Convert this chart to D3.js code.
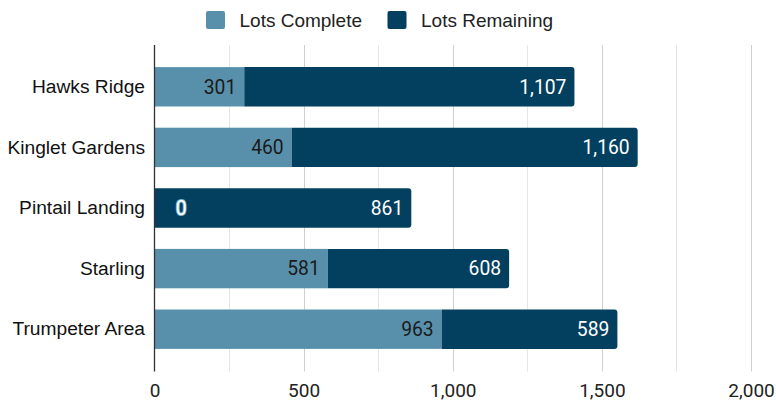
<!DOCTYPE html>
<html>
<head>
<meta charset="utf-8">
<script src="https://cdn.jsdelivr.net/npm/d3@7"></script>
<style>
  html, body { margin: 0; padding: 0; background: #fff; }
  svg { display: block; }
</style>
</head>
<body>
<svg id="chart" width="776" height="401"></svg>
<script>
const categories = ["Hawks Ridge", "Kinglet Gardens", "Pintail Landing", "Starling", "Trumpeter Area"];
const lotsComplete = [301, 460, 0, 581, 963];
const lotsRemaining = [1107, 1160, 861, 608, 589];
const seriesNames = ["Lots Complete", "Lots Remaining"];
const tickValues = [0, 500, 1000, 1500, 2000];
const gridValues = [0, 250, 500, 750, 1000, 1250, 1500, 1750, 2000];

const colors = ["#5890ab", "#03405f"];
const svg = d3.select("#chart");

const x = d3.scaleLinear().domain([0, 2000]).range([154.5, 751]);
const y = d3.scaleBand().domain(categories).range([56.5, 359.5]).paddingInner(0.35).paddingOuter(0.175);
const plotTop = 45, plotBottom = 371.5;

// gridlines
svg.append("g").selectAll("line").data(gridValues.slice(1)).join("line")
  .attr("x1", d => Math.round(x(d)) + 0.5).attr("x2", d => Math.round(x(d)) + 0.5)
  .attr("y1", plotTop).attr("y2", plotBottom)
  .attr("stroke", d => d % 500 === 0 ? "#cfcfcf" : "#e6e6e6")
  .attr("stroke-width", 1);

// x axis tick labels
const xAxis = d3.axisBottom(x).tickValues(tickValues).tickSize(0).tickPadding(0)
  .tickFormat(d3.format(","));
const ax = svg.append("g").attr("transform", `translate(0,${plotBottom})`).call(xAxis);
ax.select(".domain").remove();
ax.selectAll("text")
  .attr("y", 25).attr("dy", null)
  .attr("font-family", "Roboto, sans-serif").attr("font-size", 19).attr("fill", "#222");

// bars
const data = categories.map((c, i) => ({ c, a: lotsComplete[i], b: lotsRemaining[i] }));
const g = svg.append("g");
const r = 3;
function rightRounded(x0, x1, y0, h) {
  const rr = Math.min(r, (x1 - x0) / 2);
  return `M${x0},${y0}H${x1 - rr}Q${x1},${y0} ${x1},${y0 + rr}V${y0 + h - rr}Q${x1},${y0 + h} ${x1 - rr},${y0 + h}H${x0}Z`;
}
data.forEach(d => {
  const y0 = y(d.c), h = y.bandwidth();
  if (d.a > 0) {
    g.append("rect").attr("x", x(0)).attr("y", y0)
      .attr("width", x(d.a) - x(0)).attr("height", h).attr("fill", colors[0]);
  }
  g.append("path").attr("d", rightRounded(x(d.a), x(d.a + d.b), y0, h)).attr("fill", colors[1]);
  // labels
  const cy = y0 + h / 2;
  if (d.a > 0) {
    g.append("text").attr("x", x(d.a) - 8).attr("y", cy).attr("dy", "0.35em")
      .attr("text-anchor", "end").attr("font-family", "Roboto, sans-serif").attr("font-size", 19.3)
      .attr("fill", "#1a1a1a").text(d3.format(",")(d.a));
  } else {
    g.append("text").attr("x", x(d.a) + 32).attr("y", cy).attr("dy", "0.35em")
      .attr("text-anchor", "end").attr("font-family", "Roboto, sans-serif").attr("font-size", 19.3)
      .attr("fill", "#ffffff").attr("stroke", "#7fb0c8").attr("stroke-width", 2)
      .attr("paint-order", "stroke").text(d3.format(",")(d.a));
  }
  g.append("text").attr("x", x(d.a + d.b) - 8).attr("y", cy).attr("dy", "0.35em")
    .attr("text-anchor", "end").attr("font-family", "Roboto, sans-serif").attr("font-size", 19.3)
    .attr("fill", "#ffffff").text(d3.format(",")(d.b));
});

// y axis line
svg.append("line").attr("x1", x(0)).attr("x2", x(0)).attr("y1", plotTop).attr("y2", plotBottom)
  .attr("stroke", "#333").attr("stroke-width", 1.3);

// category labels
const yAxis = d3.axisLeft(y).tickSize(0).tickPadding(0);
const ay = svg.append("g").attr("transform", `translate(145,0)`).call(yAxis);
ay.select(".domain").remove();
ay.selectAll("text").attr("x", 0)
  .attr("font-family", "'Liberation Sans', Arial, sans-serif").attr("font-size", 19.2).attr("fill", "#111");

// legend
const legendX = [206, 387.5];
const lg = svg.append("g");
seriesNames.forEach((s, i) => {
  lg.append("rect").attr("x", legendX[i]).attr("y", 11).attr("width", 19).attr("height", 18)
    .attr("rx", 2).attr("fill", colors[i]);
  lg.append("text").attr("x", legendX[i] + 33.5).attr("y", 20).attr("dy", "0.35em")
    .attr("font-family", "'Liberation Sans', Arial, sans-serif").attr("font-size", 19)
    .attr("fill", "#222").text(s);
});
</script>
</body>
</html>
